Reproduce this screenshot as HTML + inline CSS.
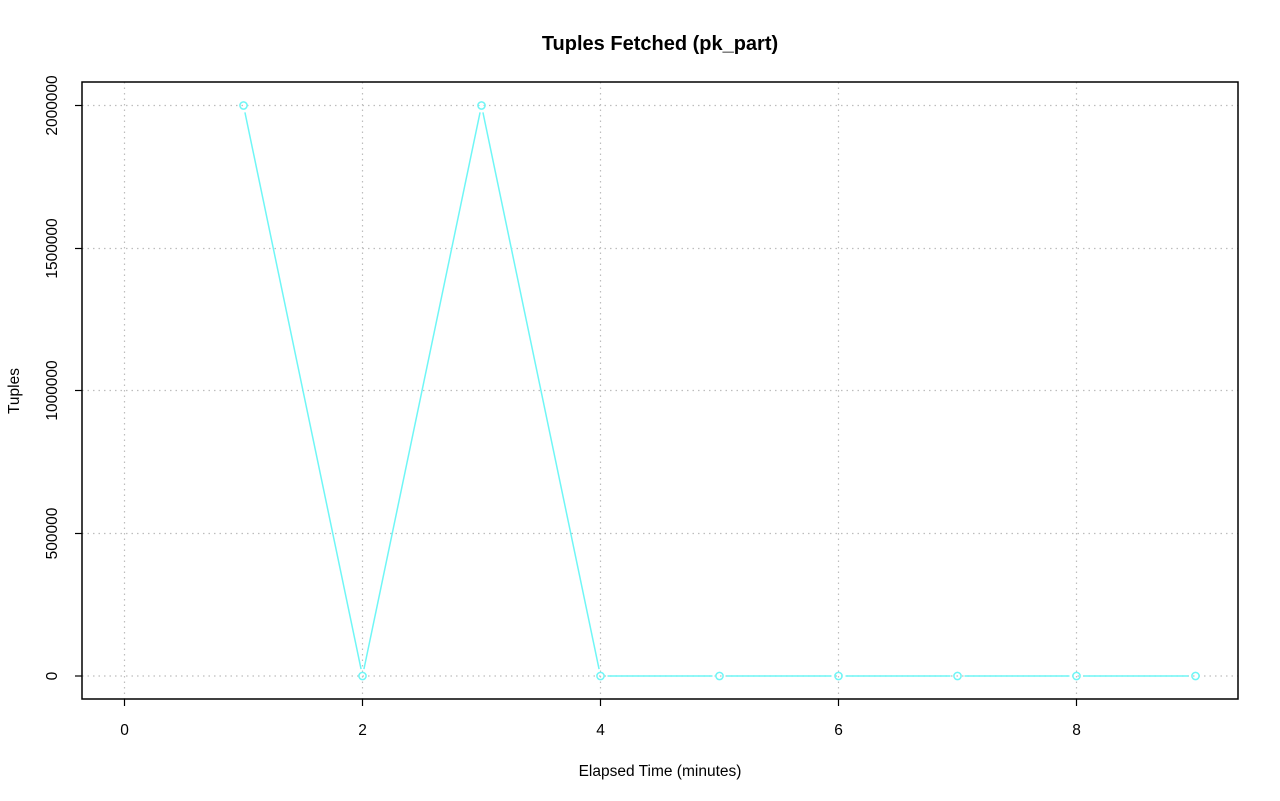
<!DOCTYPE html>
<html><head><meta charset="utf-8"><style>html,body{margin:0;padding:0;background:#fff}svg{display:block}text{font-family:"Liberation Sans",sans-serif;fill:#000}</style></head>
<body>
<svg width="1280" height="801" xmlns="http://www.w3.org/2000/svg">
<text x="660" y="50" font-size="20" font-weight="bold" text-anchor="middle">Tuples Fetched (pk_part)</text>
<g stroke="#bdbdbd" stroke-width="1.2" stroke-dasharray="1.5,4">
<line x1="124.5" y1="82" x2="124.5" y2="699"/>
<line x1="362.5" y1="82" x2="362.5" y2="699"/>
<line x1="600.5" y1="82" x2="600.5" y2="699"/>
<line x1="838.5" y1="82" x2="838.5" y2="699"/>
<line x1="1076.5" y1="82" x2="1076.5" y2="699"/>
<line x1="82" y1="105.5" x2="1238" y2="105.5"/>
<line x1="82" y1="248.5" x2="1238" y2="248.5"/>
<line x1="82" y1="390.5" x2="1238" y2="390.5"/>
<line x1="82" y1="533.5" x2="1238" y2="533.5"/>
<line x1="82" y1="676" x2="1238" y2="676"/>
</g>
<rect x="82" y="82" width="1156" height="617" fill="none" stroke="#000" stroke-width="1.5"/>
<g stroke="#000" stroke-width="1.2">
<line x1="124.5" y1="699" x2="124.5" y2="706"/>
<line x1="362.5" y1="699" x2="362.5" y2="706"/>
<line x1="600.5" y1="699" x2="600.5" y2="706"/>
<line x1="838.5" y1="699" x2="838.5" y2="706"/>
<line x1="1076.5" y1="699" x2="1076.5" y2="706"/>
<line x1="75" y1="105.5" x2="82" y2="105.5"/>
<line x1="75" y1="248.5" x2="82" y2="248.5"/>
<line x1="75" y1="390.5" x2="82" y2="390.5"/>
<line x1="75" y1="533.5" x2="82" y2="533.5"/>
<line x1="75" y1="676" x2="82" y2="676"/>
</g>
<g font-size="15.5" text-anchor="middle">
<text x="124.5" y="735">0</text>
<text x="362.5" y="735">2</text>
<text x="600.5" y="735">4</text>
<text x="838.5" y="735">6</text>
<text x="1076.5" y="735">8</text>
<text transform="translate(57,676) rotate(-90)">0</text>
<text transform="translate(57,533.5) rotate(-90)">500000</text>
<text transform="translate(57,390.5) rotate(-90)">1000000</text>
<text transform="translate(57,248.5) rotate(-90)">1500000</text>
<text transform="translate(57,105.5) rotate(-90)">2000000</text>
<text x="660" y="776">Elapsed Time (minutes)</text>
<text transform="translate(19,391) rotate(-90)">Tuples</text>
</g>
<g stroke="#6ff6f6" stroke-width="1.5" fill="none">
<circle cx="243.5" cy="105.5" r="3.6"/>
<circle cx="362.5" cy="676" r="3.6"/>
<circle cx="481.5" cy="105.5" r="3.6"/>
<circle cx="600.5" cy="676" r="3.6"/>
<circle cx="719.5" cy="676" r="3.6"/>
<circle cx="838.5" cy="676" r="3.6"/>
<circle cx="957.5" cy="676" r="3.6"/>
<circle cx="1076.5" cy="676" r="3.6"/>
<circle cx="1195.5" cy="676" r="3.6"/>
<line x1="244.93" y1="112.35" x2="361.07" y2="669.15"/>
<line x1="363.93" y1="669.15" x2="480.07" y2="112.35"/>
<line x1="482.93" y1="112.35" x2="599.07" y2="669.15"/>
<line x1="607.5" y1="676" x2="712.5" y2="676"/>
<line x1="726.5" y1="676" x2="831.5" y2="676"/>
<line x1="845.5" y1="676" x2="950.5" y2="676"/>
<line x1="964.5" y1="676" x2="1069.5" y2="676"/>
<line x1="1083.5" y1="676" x2="1188.5" y2="676"/>
</g>
</svg>
</body></html>
